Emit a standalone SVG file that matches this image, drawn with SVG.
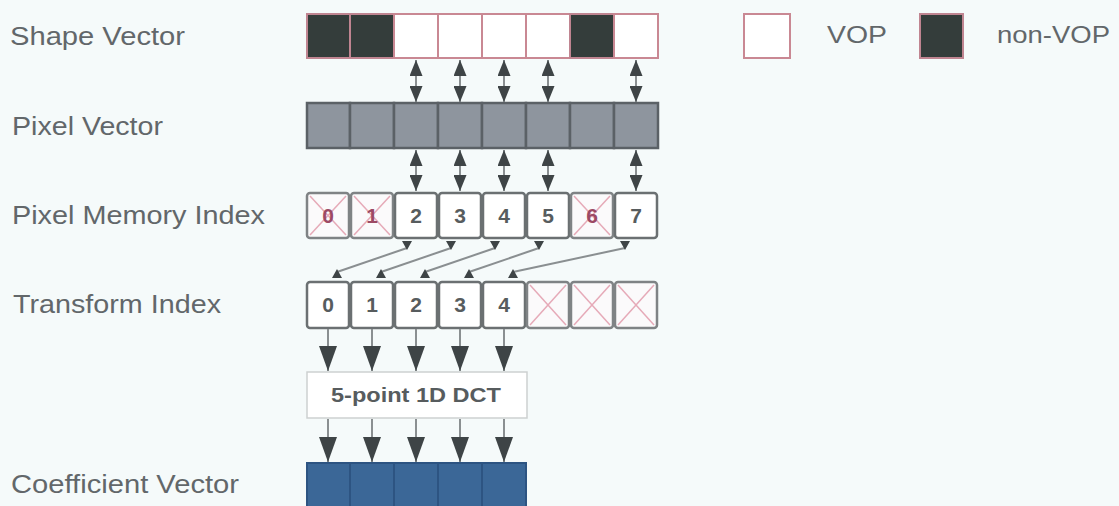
<svg xmlns="http://www.w3.org/2000/svg" width="1119" height="506" viewBox="0 0 1119 506">
<style>
.lbl{font-family:"Liberation Sans",Arial,sans-serif;font-size:25px;fill:#62676a}
.leg{font-family:"Liberation Sans",Arial,sans-serif;font-size:23px;fill:#62676a}
.dig{font-family:"Liberation Sans",Arial,sans-serif;font-size:21px;font-weight:bold;fill:#575c5e;text-anchor:middle}
.digx{fill:#9c4a64}
.vop{fill:#ffffff;stroke:#c98893;stroke-width:2}
.nvop{fill:#343d3b;stroke:#c08591;stroke-width:2}
.pix{fill:#8e959e;stroke:#5b6166;stroke-width:2.5}
.idx{fill:#ffffff;stroke:#6b7072;stroke-width:2.5}
.idxx{fill:#fbfafb;stroke:#7f8385;stroke-width:2.5}
.cross{stroke:#e6aab8;stroke-width:1.5}
.coef{fill:#3b6797;stroke:#2d5482;stroke-width:2}
.ln{stroke:#8a8f91;stroke-width:2;fill:none}
.hd{fill:#3e4446}
</style>
<defs>
<marker id="hs" markerUnits="userSpaceOnUse" markerWidth="16" markerHeight="13" viewBox="0 0 16 13" refX="16" refY="6.5" orient="auto-start-reverse"><path d="M0,0 L16,6.5 L0,13 z" fill="#3e4446"/></marker>
<marker id="hb" markerUnits="userSpaceOnUse" markerWidth="25" markerHeight="18" viewBox="0 0 25 18" refX="25" refY="9" orient="auto"><path d="M0,0 L25,9 L0,18 z" fill="#3e4446"/></marker>
</defs>
<rect width="1119" height="506" fill="#f5fafa"/>

<g id="labels">
<text class="lbl" x="10" y="45" textLength="175" lengthAdjust="spacingAndGlyphs">Shape Vector</text>
<text class="lbl" x="12" y="135" textLength="151" lengthAdjust="spacingAndGlyphs">Pixel Vector</text>
<text class="lbl" x="12" y="224" textLength="253" lengthAdjust="spacingAndGlyphs">Pixel Memory Index</text>
<text class="lbl" x="13" y="313" textLength="208" lengthAdjust="spacingAndGlyphs">Transform Index</text>
<text class="lbl" x="11" y="493" textLength="228" lengthAdjust="spacingAndGlyphs">Coefficient Vector</text>
</g>

<g id="legend">
<rect class="vop" x="744" y="14" width="46" height="44"/>
<text class="leg" x="827" y="43" textLength="60" lengthAdjust="spacingAndGlyphs">VOP</text>
<rect class="nvop" x="920" y="14" width="43" height="44" stroke="none"/>
<text class="leg" x="997" y="43" textLength="113" lengthAdjust="spacingAndGlyphs">non-VOP</text>
</g>

<g id="shape-vector">
<rect class="nvop" x="307" y="14" width="43" height="44"/>
<rect class="nvop" x="350" y="14" width="44" height="44"/>
<rect class="vop" x="394" y="14" width="44" height="44"/>
<rect class="vop" x="438" y="14" width="44" height="44"/>
<rect class="vop" x="482" y="14" width="44" height="44"/>
<rect class="vop" x="526" y="14" width="44" height="44"/>
<rect class="nvop" x="570" y="14" width="44" height="44"/>
<rect class="vop" x="614" y="14" width="44" height="44"/>
</g>

<g id="pixel-vector">
<rect class="pix" x="307" y="103" width="43" height="45"/>
<rect class="pix" x="350" y="103" width="44" height="45"/>
<rect class="pix" x="394" y="103" width="44" height="45"/>
<rect class="pix" x="438" y="103" width="44" height="45"/>
<rect class="pix" x="482" y="103" width="44" height="45"/>
<rect class="pix" x="526" y="103" width="44" height="45"/>
<rect class="pix" x="570" y="103" width="44" height="45"/>
<rect class="pix" x="614" y="103" width="44" height="45"/>
</g>

<g id="pixel-memory-index">
<rect class="idxx" x="307" y="193" width="42" height="45" rx="3"/>
<line class="cross" x1="310" y1="196" x2="346" y2="235"/><line class="cross" x1="346" y1="196" x2="310" y2="235"/>
<text class="dig digx" x="328" y="223">0</text>
<rect class="idxx" x="351" y="193" width="42" height="45" rx="3"/>
<line class="cross" x1="354" y1="196" x2="390" y2="235"/><line class="cross" x1="390" y1="196" x2="354" y2="235"/>
<text class="dig digx" x="372" y="223">1</text>
<rect class="idx" x="395" y="193" width="42" height="45" rx="3"/>
<text class="dig" x="416" y="223">2</text>
<rect class="idx" x="439" y="193" width="42" height="45" rx="3"/>
<text class="dig" x="460" y="223">3</text>
<rect class="idx" x="483" y="193" width="42" height="45" rx="3"/>
<text class="dig" x="504" y="223">4</text>
<rect class="idx" x="527" y="193" width="42" height="45" rx="3"/>
<text class="dig" x="548" y="223">5</text>
<rect class="idxx" x="571" y="193" width="42" height="45" rx="3"/>
<line class="cross" x1="574" y1="196" x2="610" y2="235"/><line class="cross" x1="610" y1="196" x2="574" y2="235"/>
<text class="dig digx" x="592" y="223">6</text>
<rect class="idx" x="615" y="193" width="42" height="45" rx="3"/>
<text class="dig" x="636" y="223">7</text>
</g>

<g id="transform-index">
<rect class="idx" x="307" y="282" width="42" height="46" rx="3"/>
<text class="dig" x="328" y="312">0</text>
<rect class="idx" x="351" y="282" width="42" height="46" rx="3"/>
<text class="dig" x="372" y="312">1</text>
<rect class="idx" x="395" y="282" width="42" height="46" rx="3"/>
<text class="dig" x="416" y="312">2</text>
<rect class="idx" x="439" y="282" width="42" height="46" rx="3"/>
<text class="dig" x="460" y="312">3</text>
<rect class="idx" x="483" y="282" width="42" height="46" rx="3"/>
<text class="dig" x="504" y="312">4</text>
<rect class="idxx" x="527" y="282" width="42" height="46" rx="3"/>
<line class="cross" x1="530" y1="285" x2="566" y2="325"/><line class="cross" x1="566" y1="285" x2="530" y2="325"/>
<rect class="idxx" x="571" y="282" width="42" height="46" rx="3"/>
<line class="cross" x1="574" y1="285" x2="610" y2="325"/><line class="cross" x1="610" y1="285" x2="574" y2="325"/>
<rect class="idxx" x="615" y="282" width="42" height="46" rx="3"/>
<line class="cross" x1="618" y1="285" x2="654" y2="325"/><line class="cross" x1="654" y1="285" x2="618" y2="325"/>
</g>

<g id="dct">
<rect x="307" y="372" width="220" height="46" fill="#ffffff" stroke="#cdd1d1" stroke-width="1.5"/>
<text class="dig" x="416" y="402" textLength="170" lengthAdjust="spacingAndGlyphs">5-point 1D DCT</text>
</g>

<g id="coefficient-vector">
<rect class="coef" x="307" y="463" width="43" height="50"/>
<rect class="coef" x="350" y="463" width="44" height="50"/>
<rect class="coef" x="394" y="463" width="44" height="50"/>
<rect class="coef" x="438" y="463" width="44" height="50"/>
<rect class="coef" x="482" y="463" width="44" height="50"/>
</g>

<g id="connectors">
<line class="ln" x1="416" y1="60" x2="416" y2="102" marker-start="url(#hs)" marker-end="url(#hs)"/>
<line class="ln" x1="460" y1="60" x2="460" y2="102" marker-start="url(#hs)" marker-end="url(#hs)"/>
<line class="ln" x1="504" y1="60" x2="504" y2="102" marker-start="url(#hs)" marker-end="url(#hs)"/>
<line class="ln" x1="548" y1="60" x2="548" y2="102" marker-start="url(#hs)" marker-end="url(#hs)"/>
<line class="ln" x1="636" y1="60" x2="636" y2="102" marker-start="url(#hs)" marker-end="url(#hs)"/>

<line class="ln" x1="416" y1="150" x2="416" y2="191" marker-start="url(#hs)" marker-end="url(#hs)"/>
<line class="ln" x1="460" y1="150" x2="460" y2="191" marker-start="url(#hs)" marker-end="url(#hs)"/>
<line class="ln" x1="504" y1="150" x2="504" y2="191" marker-start="url(#hs)" marker-end="url(#hs)"/>
<line class="ln" x1="548" y1="150" x2="548" y2="191" marker-start="url(#hs)" marker-end="url(#hs)"/>
<line class="ln" x1="636" y1="150" x2="636" y2="191" marker-start="url(#hs)" marker-end="url(#hs)"/>

<line class="ln" x1="407" y1="248" x2="337" y2="272"/>
<line class="ln" x1="451" y1="248" x2="381" y2="272"/>
<line class="ln" x1="495" y1="248" x2="425" y2="272"/>
<line class="ln" x1="539" y1="248" x2="469" y2="272"/>
<line class="ln" x1="625" y1="248" x2="513" y2="272"/>
<path class="hd" d="M402,241 L412,241 L407,250 z M446,241 L456,241 L451,250 z M490,241 L500,241 L495,250 z M534,241 L544,241 L539,250 z M620,241 L630,241 L625,250 z"/>
<path class="hd" d="M332,278 L342,278 L337,269 z M376,278 L386,278 L381,269 z M420,278 L430,278 L425,269 z M464,278 L474,278 L469,269 z M508,278 L518,278 L513,269 z"/>

<line class="ln" x1="328" y1="329" x2="328" y2="371" marker-end="url(#hb)"/>
<line class="ln" x1="372" y1="329" x2="372" y2="371" marker-end="url(#hb)"/>
<line class="ln" x1="416" y1="329" x2="416" y2="371" marker-end="url(#hb)"/>
<line class="ln" x1="460" y1="329" x2="460" y2="371" marker-end="url(#hb)"/>
<line class="ln" x1="504" y1="329" x2="504" y2="371" marker-end="url(#hb)"/>

<line class="ln" x1="328" y1="419" x2="328" y2="462" marker-end="url(#hb)"/>
<line class="ln" x1="372" y1="419" x2="372" y2="462" marker-end="url(#hb)"/>
<line class="ln" x1="416" y1="419" x2="416" y2="462" marker-end="url(#hb)"/>
<line class="ln" x1="460" y1="419" x2="460" y2="462" marker-end="url(#hb)"/>
<line class="ln" x1="504" y1="419" x2="504" y2="462" marker-end="url(#hb)"/>
</g>
</svg>
